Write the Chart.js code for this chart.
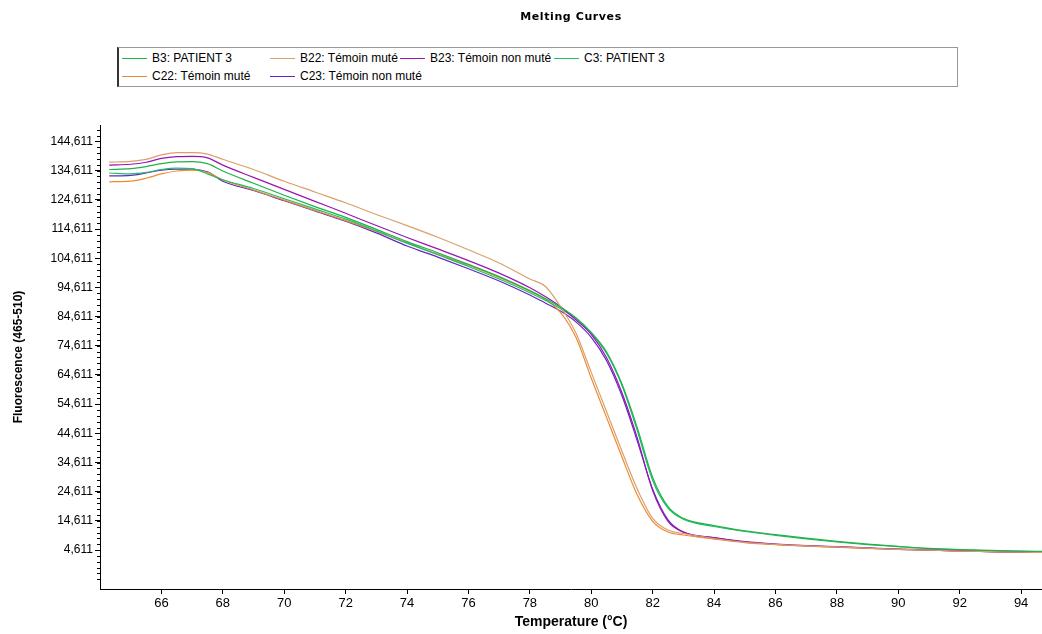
<!DOCTYPE html>
<html>
<head>
<meta charset="utf-8">
<script src="https://cdn.jsdelivr.net/npm/chart.js@4.4.1/dist/chart.umd.min.js"></script>
<style>
    html, body { margin: 0; padding: 0; background: #fff; }
    #wrap { position: relative; width: 1042px; height: 634px; }
    #title { position: absolute; left: 100px; width: 942px; top: 10px; text-align: center;
             font: bold 11px "DejaVu Sans", sans-serif; letter-spacing: 0.6px; color: #000; }
    #legend { position: absolute; left: 117px; top: 47px; width: 838px; height: 37px;
              border: 1px solid #999; border-left: 2px solid #333; background: #fff;
              display: grid; grid-template-columns: 148px 130px 154px auto; grid-auto-rows: 18px;
              padding-top: 1px; font: 12px "Liberation Sans", Arial, sans-serif; color: #000; }
    .item { display: flex; align-items: center; white-space: nowrap; }
    .item span.line { display: inline-block; flex-shrink: 0; width: 25px; height: 1px; margin: 0 5px 0 3px; }
</style>
</head>
<body>
<div id="wrap">
    <canvas id="myChart" width="1042" height="634"></canvas>
    <div id="title">Melting Curves</div>
    <div id="legend"></div>
</div>
<script>
// temperature grid (°C)
const temps = [64.3, 65, 65.5, 66, 66.5, 67, 67.5, 68, 69, 70, 71, 72, 73, 74, 75, 76, 77, 78, 78.5, 79,
               79.5, 80, 80.5, 81, 81.5, 82, 82.5, 83, 84, 85, 86, 87, 88, 89, 90, 91, 92, 93, 94, 94.75];

const seriesNames = ["B3: PATIENT 3", "B22: Témoin muté", "B23: Témoin non muté",
                     "C3: PATIENT 3", "C22: Témoin muté", "C23: Témoin non muté"];
const seriesColors = ["#22b04a", "#d9a06a", "#9a14b4", "#1fbf62", "#ee8a34", "#6226c6"];

const b3 = [135.0, 135.3, 136.0, 137.0, 137.6, 137.7, 137.0, 134.5, 130.3, 126.2, 122.3, 118.6, 114.5, 110.3, 106.5, 102.5, 98.3, 93.5,
            90.8, 87.8, 84.2, 79.2, 72.5, 61.5, 46.5, 29.5, 19.5,
            15.5, 13.0, 11.2, 9.9, 8.7, 7.6, 6.7, 5.9, 5.2, 4.8, 4.5, 4.3, 4.2];
const b22 = [137.5, 137.8, 138.5, 140.0, 140.8, 140.8, 140.3, 138.5, 135.0, 131.0, 127.3, 123.6, 119.6, 115.8, 111.8, 107.5, 103.0, 97.5,
             95.0, 88.0, 79.0, 65.5, 52.0, 38.5, 25.5, 15.5, 11.5,
             10.3, 8.6, 7.3, 6.6, 6.1, 5.7, 5.3, 4.9, 4.6, 4.3, 4.1, 3.9, 3.8];
const b23 = [136.5, 136.8, 137.5, 138.8, 139.4, 139.5, 139.0, 136.5, 132.3, 128.2, 124.1, 120.0, 115.8, 111.7, 107.8, 103.8, 99.5, 94.5,
             91.5, 88.0, 83.5, 78.5, 70.5, 58.5, 43.0, 25.0, 14.5,
             10.8, 8.9, 7.5, 6.7, 6.2, 5.8, 5.4, 5.0, 4.7, 4.4, 4.1, 3.9, 3.8];
const c3 = [133.8, 133.5, 134.0, 135.0, 135.5, 135.3, 133.5, 131.5, 128.5, 125.0, 121.5, 118.0, 114.0, 109.8, 105.8, 101.8, 97.5, 92.8,
            90.2, 87.3, 83.8, 78.8, 72.0, 61.0, 45.5, 28.5, 19.0,
            15.2, 12.7, 11.0, 9.7, 8.5, 7.4, 6.5, 5.8, 5.1, 4.7, 4.4, 4.2, 4.1];
const c22 = [130.8, 131.0, 132.0, 133.5, 134.5, 134.8, 134.0, 131.5, 128.0, 124.5, 121.0, 117.5, 113.8, 109.8, 106.0, 102.2, 98.0, 93.3,
             90.5, 86.0, 77.5, 63.5, 50.0, 36.5, 23.5, 14.5, 10.8,
             9.8, 8.4, 7.2, 6.5, 6.0, 5.6, 5.2, 4.9, 4.6, 4.3, 4.1, 3.9, 3.8];
const c23 = [132.8, 133.0, 133.8, 134.8, 135.1, 135.1, 134.2, 131.0, 127.8, 124.3, 120.8, 117.3, 113.3, 108.8, 105.0, 101.0, 96.8, 92.0,
             89.3, 86.5, 82.8, 77.5, 69.5, 57.5, 42.0, 25.5, 15.0,
             10.8, 8.8, 7.4, 6.6, 6.1, 5.7, 5.3, 4.9, 4.6, 4.3, 4.1, 3.9, 3.8];
const seriesValues = [b3, b22, b23, c3, c22, c23];

const yTicks = [4.611, 14.611, 24.611, 34.611, 44.611, 54.611, 64.611, 74.611, 84.611, 94.611, 104.611, 114.611, 124.611, 134.611, 144.611];
const xTicks = [66, 68, 70, 72, 74, 76, 78, 80, 82, 84, 86, 88, 90, 92, 94];

function buildLegend()
{
    const legend = document.getElementById("legend");
    legend.innerHTML = seriesNames.map((name, i) =>
        `<div class="item"><span class="line" style="background:${seriesColors[i]}"></span>${name}</div>`).join("");
}

// small ticks between the labelled ones on the y axis
const minorTicks = {
    id: "minorTicks",
    afterDraw(chart)
    {
        const ctx = chart.ctx;
        const y = chart.scales.y;
        ctx.save();
        ctx.strokeStyle = "#000";
        ctx.lineWidth = 1;
        ctx.beginPath();
        for(let v = yTicks[0] - 10; v < y.max; v += 2)
        {
            if(v < y.min) continue;
            const py = Math.round(y.getPixelForValue(v)) + 0.5;
            ctx.moveTo(y.right - 3, py);
            ctx.lineTo(y.right, py);
        }
        ctx.stroke();
        ctx.restore();
    }
};

function chart()
{
    const ctx = document.getElementById("myChart").getContext("2d");
    const datasets = seriesNames.map((name, i) => ({
        label: name,
        data: temps.map((t, k) => ({x: t, y: seriesValues[i][k]})),
        borderColor: seriesColors[i],
        borderWidth: 1.2,
        pointRadius: 0,
        cubicInterpolationMode: "monotone",
        fill: false
    }));

    new Chart(ctx, {
        type: "line",
        data: {datasets},
        options: {
            responsive: false,
            animation: false,
            layout: {padding: {top: 125, left: 11, right: 0, bottom: 0}},
            plugins: {legend: {display: false}, title: {display: false}, tooltip: {enabled: false}},
            scales: {
                x: {
                    type: "linear",
                    min: 64.0,
                    max: 94.68,
                    afterBuildTicks: scale => { scale.ticks = xTicks.map(v => ({value: v})); },
                    afterFit: scale => { scale.height = 45; },
                    grid: {display: true, drawOnChartArea: false, tickLength: 5, color: "#000"},
                    border: {display: true, color: "#000", width: 1},
                    ticks: {
                        autoSkip: false, maxRotation: 0, padding: 2, color: "#000",
                        font: {family: "'Liberation Sans Narrow', 'Arial Narrow', 'Liberation Sans', sans-serif", size: 13}
                    },
                    title: {
                        display: true, text: "Temperature (°C)", color: "#000", padding: {top: 0, bottom: 3},
                        font: {family: "'Liberation Sans Narrow', 'Arial Narrow', 'Liberation Sans', sans-serif", size: 14, weight: "bold"}
                    }
                },
                y: {
                    type: "linear",
                    min: -8.7,
                    max: 150.25,
                    afterBuildTicks: scale => { scale.ticks = yTicks.map(v => ({value: v})); },
                    afterFit: scale => { scale.width = 89; },
                    grid: {display: true, drawOnChartArea: false, tickLength: 5, color: "#000"},
                    border: {display: true, color: "#000", width: 1},
                    ticks: {
                        autoSkip: false, padding: 2, color: "#000",
                        font: {family: "'Liberation Sans', Arial, sans-serif", size: 12},
                        callback: v => v.toFixed(3).replace(".", ",")
                    },
                    title: {
                        display: true, text: "Fluorescence (465-510)", color: "#000", padding: {top: 0, bottom: 0},
                        font: {family: "'Liberation Sans', Arial, sans-serif", size: 12, weight: "bold"}
                    }
                }
            }
        },
        plugins: [minorTicks]
    });
}

window.addEventListener("load", () =>
{
    buildLegend();
    chart();
});
</script>
</body>
</html>
